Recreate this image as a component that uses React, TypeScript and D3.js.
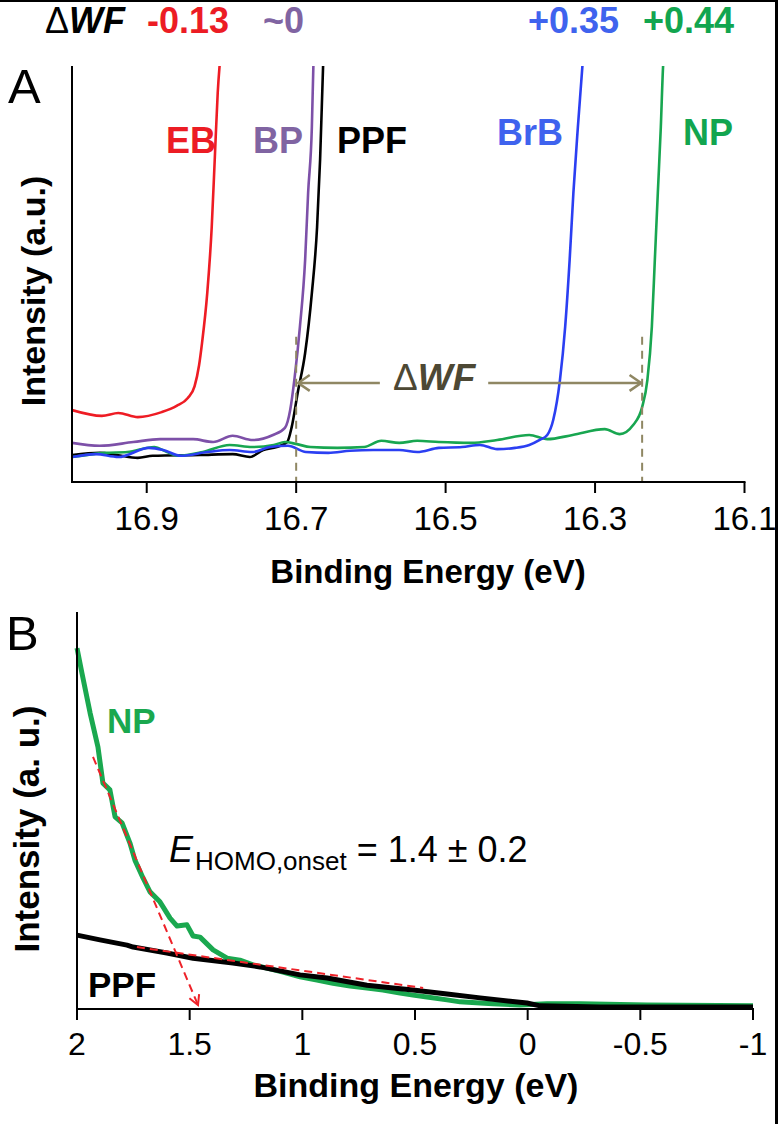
import React from 'react';
import * as d3 from 'd3';

const FONT = '"Liberation Sans", Arial, Helvetica, sans-serif';

// ---------- Panel A data (binding energy eV, intensity a.u.) ----------
const ticksA = [16.9, 16.7, 16.5, 16.3, 16.1];
const ebA: [number, number][] = [
  [17.0, 17.3], [16.96, 15.9], [16.938, 16.6], [16.912, 15.6], [16.88, 16.8], [16.86, 18.3],
  [16.845, 20.2], [16.836, 23.0], [16.83, 28.0], [16.826, 33.4], [16.819, 45.4], [16.813, 61.3],
  [16.809, 77.4], [16.805, 93.5], [16.8, 105],
];
const bpA: [number, number][] = [
  [17.0, 9.4], [16.963, 8.7], [16.918, 9.6], [16.882, 10.3], [16.838, 10.3], [16.811, 9.6],
  [16.785, 11.1], [16.758, 10.1], [16.731, 11.3], [16.715, 13.0], [16.708, 17.3], [16.702, 25.2],
  [16.695, 37.3], [16.688, 53.4], [16.684, 69.5], [16.679, 85.3], [16.677, 99.8], [16.676, 105],
];
const ppfA: [number, number][] = [
  [17.0, 6.5], [16.963, 7.0], [16.94, 6.5], [16.912, 5.8], [16.892, 6.3], [16.829, 6.5],
  [16.785, 6.7], [16.762, 6.0], [16.744, 7.7], [16.726, 8.4], [16.712, 9.6], [16.706, 13.2],
  [16.698, 21.4], [16.688, 31.0], [16.679, 45.4], [16.672, 61.3], [16.668, 77.4], [16.664, 99.8],
  [16.663, 105],
];
const brbA: [number, number][] = [
  [17.0, 6.0], [16.968, 6.7], [16.938, 6.0], [16.897, 8.2], [16.878, 7.7], [16.854, 6.3],
  [16.819, 7.2], [16.789, 7.7], [16.759, 7.2], [16.735, 8.4], [16.711, 8.7], [16.687, 7.2],
  [16.657, 7.0], [16.628, 7.5], [16.597, 7.7], [16.562, 7.7], [16.538, 7.2], [16.509, 8.2],
  [16.478, 8.4], [16.454, 8.9], [16.431, 7.9], [16.407, 8.2], [16.388, 8.9], [16.374, 10.1],
  [16.364, 11.3], [16.356, 14.9], [16.347, 24.5], [16.34, 37.3], [16.334, 53.4], [16.329, 69.5],
  [16.323, 85.3], [16.317, 99.8], [16.315, 105],
];
const npA: [number, number][] = [
  [17.0, 6.0], [16.956, 7.0], [16.926, 7.2], [16.89, 8.4], [16.873, 7.2], [16.858, 6.3],
  [16.825, 7.2], [16.789, 8.9], [16.759, 8.4], [16.73, 8.9], [16.715, 9.6], [16.699, 9.1],
  [16.681, 8.4], [16.645, 8.2], [16.609, 8.4], [16.586, 9.9], [16.562, 9.4], [16.538, 9.9],
  [16.509, 9.6], [16.466, 9.4], [16.431, 10.1], [16.388, 11.3], [16.364, 10.3], [16.33, 11.3],
  [16.287, 12.7], [16.267, 11.5], [16.249, 13.7], [16.237, 18.0], [16.23, 24.5], [16.224, 37.3],
  [16.22, 53.4], [16.216, 69.5], [16.212, 85.3], [16.209, 99.8], [16.207, 105],
];
const wfMarks = [16.7, 16.237];
const wfArrowLevel = 23.8;
const wfLabels = ['\u0394WF', '-0.13', '~0', '+0.35', '+0.44'];

// ---------- Panel B data ----------
const ticksB = [2, 1.5, 1, 0.5, 0, -0.5, -1];
const npB: [number, number][] = [
  [2.0, 90.9], [1.978, 84.6], [1.942, 74.6], [1.907, 66.0], [1.885, 56.9], [1.854, 55.2],
  [1.831, 48.4], [1.8, 46.9], [1.765, 41.8], [1.743, 37.5], [1.707, 33.0], [1.676, 29.5],
  [1.632, 27.0], [1.587, 22.9], [1.556, 20.9], [1.512, 21.2], [1.485, 18.4], [1.454, 18.1],
  [1.396, 14.9], [1.334, 12.8], [1.277, 12.3], [1.219, 11.1], [1.157, 10.3], [1.086, 9.3],
  [1.01, 8.1], [0.935, 7.3], [0.864, 6.5], [0.788, 5.8], [0.713, 5.3], [0.642, 4.8],
  [0.566, 4.0], [0.509, 3.5], [0.447, 3.0], [0.358, 2.3], [0.3, 1.8], [0.211, 1.5],
  [0.154, 1.3], [0.034, 1.0], [-0.086, 1.3], [-0.233, 1.3], [-0.53, 1.0], [-1.0, 0.8],
];
const ppfB: [number, number][] = [
  [2.0, 18.6], [1.898, 17.4], [1.778, 16.1], [1.751, 15.6], [1.601, 14.1], [1.485, 12.8],
  [1.308, 11.6], [1.188, 10.6], [1.01, 8.6], [0.89, 7.8], [0.713, 6.0], [0.597, 5.3],
  [0.509, 4.8], [0.358, 3.8], [0.211, 2.8], [0.003, 1.5], [-0.055, 0.8], [-0.321, 0.5],
  [-1.0, 0.5],
];
const fitSteep: [number, number][] = [[1.929, 63.5], [1.463, 1.0]];
const fitShallow: [number, number][] = [[1.734, 15.6], [0.464, 5.3]];

// ---------- layout ----------
const W = 778;
const H = 1124;
const A = { left: 72, right: 744.5, top: 66, bottom: 482 };
const B = { left: 77, right: 753, top: 612, bottom: 1009 };

const xA = d3.scaleLinear().domain([17.0, 16.1]).range([A.left, A.right]);
const yA = d3.scaleLinear().domain([0, 100]).range([A.bottom, A.top]);
const xB = d3.scaleLinear().domain([2, -1]).range([B.left, B.right]);
const yB = d3.scaleLinear().domain([0, 100]).range([B.bottom, B.top]);

const lineA = d3.line<[number, number]>().x(d => xA(d[0])).y(d => yA(d[1])).curve(d3.curveMonotoneX);
const lineB = d3.line<[number, number]>().x(d => xB(d[0])).y(d => yB(d[1])).curve(d3.curveLinear);

const OLIVE = '#8f8763';

function chevron(tx: number, ty: number, fx: number, fy: number, len: number, ang: number) {
  const a = Math.atan2(fy - ty, fx - tx);
  const p1 = [tx + len * Math.cos(a + ang), ty + len * Math.sin(a + ang)];
  const p2 = [tx + len * Math.cos(a - ang), ty + len * Math.sin(a - ang)];
  return `M${p1[0]},${p1[1]}L${tx},${ty}L${p2[0]},${p2[1]}`;
}

export default function App() {
  const arrowY = yA(wfArrowLevel);
  const xl = xA(wfMarks[0]);
  const xr = xA(wfMarks[1]);
  const sTip = [xB(fitSteep[1][0]), yB(fitSteep[1][1])];
  const sTail = [xB(fitSteep[0][0]), yB(fitSteep[0][1])];
  return (
    <div style={{ position: 'absolute', left: 0, top: 0, width: W, height: H, background: '#fff' }}>
      <svg width={W} height={H} style={{ display: 'block' }} fontFamily={FONT}>
        <defs>
          <clipPath id="clipA">
            <rect x={A.left} y={A.top} width={A.right - A.left + 20} height={A.bottom - A.top} />
          </clipPath>
        </defs>
        <rect x={0} y={0} width={W} height={H} fill="#fff" />
        {/* frame (top & right) */}
        <line x1={0} y1={1} x2={W} y2={1} stroke="#000" strokeWidth={2} />
        <line x1={W - 1.5} y1={0} x2={W - 1.5} y2={H} stroke="#000" strokeWidth={3} />

        {/* header ΔWF values */}
        <g fontWeight="bold" fontSize={36}>
          <text x={45} y={33} fill="#000">
            <tspan fontWeight="normal">{'\u0394'}</tspan>
            <tspan fontStyle="italic">WF</tspan>
          </text>
          <text x={147} y={33} fill="#ec1c24">{wfLabels[1]}</text>
          <text x={263} y={33} fill="#8064a2">{wfLabels[2]}</text>
          <text x={528} y={33} fill="#3f63ee">{wfLabels[3]}</text>
          <text x={643} y={33} fill="#12a54f">{wfLabels[4]}</text>
        </g>

        {/* Panel A */}
        <text x={8} y={103} fontSize={49}>A</text>
        <g clipPath="url(#clipA)" fill="none" strokeWidth={2.6} strokeLinejoin="round">
          <path d={lineA(ebA) || ''} stroke="#ee1c24" />
          <path d={lineA(bpA) || ''} stroke="#7d50a8" />
          <path d={lineA(ppfA) || ''} stroke="#000" />
          <path d={lineA(npA) || ''} stroke="#18a650" />
          <path d={lineA(brbA) || ''} stroke="#2b3ff2" />
        </g>
        {wfMarks.map((m, i) => (
          <line key={i} x1={xA(m)} x2={xA(m)} y1={yA(34.9)} y2={A.bottom} stroke={OLIVE}
            strokeWidth={2} strokeDasharray="8,6" />
        ))}
        <g stroke={OLIVE} strokeWidth={2.5} fill="none">
          <line x1={xl + 2} y1={arrowY} x2={xA(16.588)} y2={arrowY} />
          <line x1={xA(16.443)} y1={arrowY} x2={xr - 1} y2={arrowY} />
          <path d={chevron(xl + 2, arrowY, xl + 50, arrowY, 14, 0.6)} />
          <path d={chevron(xr - 1, arrowY, xr - 50, arrowY, 14, 0.6)} />
        </g>
        <text x={393} y={390} fontSize={37} fill="#4d4834">
          <tspan>{'\u0394'}</tspan>
          <tspan fontWeight="bold" fontStyle="italic">WF</tspan>
        </text>
        <g fontWeight="bold" fontSize={36}>
          <text x={166} y={153} fill="#ec1c24">EB</text>
          <text x={253} y={153} fill="#8064a2">BP</text>
          <text x={337} y={153} fill="#000">PPF</text>
          <text x={497} y={145} fill="#3f63ee">BrB</text>
          <text x={683} y={145} fill="#12a54f">NP</text>
        </g>
        {/* axes A */}
        <line x1={A.left} y1={A.top} x2={A.left} y2={A.bottom + 1} stroke="#000" strokeWidth={2} />
        <line x1={A.left} y1={A.bottom} x2={A.right + 1} y2={A.bottom} stroke="#000" strokeWidth={2} />
        {ticksA.map(t => (
          <g key={t}>
            <line x1={xA(t)} x2={xA(t)} y1={A.bottom} y2={A.bottom + 11} stroke="#000" strokeWidth={2} />
            <text x={xA(t)} y={530} fontSize={33} textAnchor="middle">{t.toFixed(1)}</text>
          </g>
        ))}
        <text x={428} y={583} fontSize={33} fontWeight="bold" textAnchor="middle">Binding Energy (eV)</text>
        <text transform={`translate(45,${291}) rotate(-90)`} fontSize={34} fontWeight="bold" textAnchor="middle">
          Intensity (a.u.)
        </text>

        {/* Panel B */}
        <text x={6} y={650} fontSize={49}>B</text>
        <g fill="none" strokeWidth={5} strokeLinejoin="round">
          <path d={lineB(npB) || ''} stroke="#1aa84f" />
          <path d={lineB(ppfB) || ''} stroke="#000" />
        </g>
        <g stroke="#ee2229" strokeWidth={2} fill="none">
          <path d={lineB(fitSteep) || ''} strokeDasharray="8,5" />
          <path d={lineB(fitShallow) || ''} strokeDasharray="8,5" />
          <path d={chevron(sTip[0], sTip[1], sTail[0], sTail[1], 11, 0.5)} />
        </g>
        <text x={107} y={733} fontSize={35} fontWeight="bold" fill="#1aa84f">NP</text>
        <text x={88} y={997} fontSize={35} fontWeight="bold" fill="#000">PPF</text>
        <text x={169} y={862} fontSize={36}>
          <tspan fontStyle="italic">E</tspan>
          <tspan fontSize={26} dy={8} dx={2}>HOMO,onset</tspan>
          <tspan dy={-8}>{' = 1.4 \u00b1 0.2'}</tspan>
        </text>
        {/* axes B */}
        <line x1={B.left} y1={B.top} x2={B.left} y2={B.bottom + 1} stroke="#000" strokeWidth={2} />
        <line x1={B.left} y1={B.bottom} x2={B.right + 1} y2={B.bottom} stroke="#000" strokeWidth={2} />
        {ticksB.map(t => (
          <g key={t}>
            <line x1={xB(t)} x2={xB(t)} y1={B.bottom} y2={B.bottom + 11} stroke="#000" strokeWidth={2} />
            <text x={xB(t)} y={1055} fontSize={32} textAnchor="middle">{String(t)}</text>
          </g>
        ))}
        <text x={416} y={1097} fontSize={34} fontWeight="bold" textAnchor="middle">Binding Energy (eV)</text>
        <text transform={`translate(39,${829}) rotate(-90)`} fontSize={35} fontWeight="bold" textAnchor="middle">
          Intensity (a. u.)
        </text>
      </svg>
    </div>
  );
}
